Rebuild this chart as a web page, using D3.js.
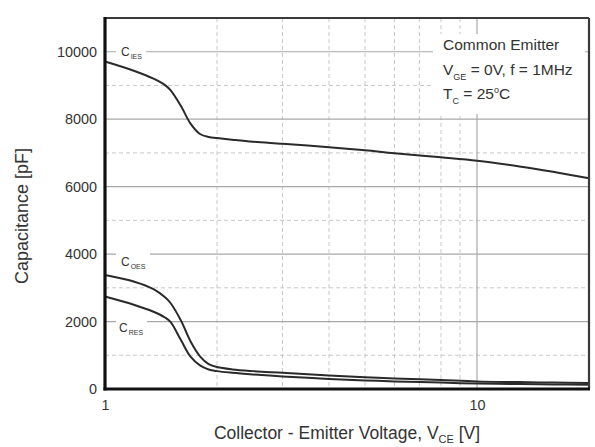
<!DOCTYPE html>
<html>
<head>
<meta charset="utf-8">
<script src="https://cdn.jsdelivr.net/npm/d3@7"></script>
<style>
  html, body { margin: 0; padding: 0; background: #fff; }
  svg { display: block; font-family: "Liberation Sans", Arial, sans-serif; }
</style>
</head>
<body>
<svg id="chart" width="595" height="447"></svg>
<script>
// Collector-emitter voltage samples (V)
const vce  = [1, 1.2, 1.35, 1.45, 1.5, 1.6, 1.7, 1.8, 1.9, 2.0, 2.2, 2.5, 3, 4, 5, 6, 8, 10, 13, 16, 20];
// Input capacitance Cies (pF)
const cies = [9710, 9430, 9200, 9010, 8860, 8390, 7860, 7560, 7470, 7440, 7390, 7330, 7270, 7170, 7080, 6990, 6870, 6770, 6600, 6440, 6250];
// Output capacitance Coes (pF)
const coes = [3380, 3180, 2960, 2720, 2550, 2030, 1400, 970, 740, 650, 580, 530, 480, 400, 350, 315, 265, 225, 205, 190, 175];
// Reverse transfer capacitance Cres (pF)
const cres = [2740, 2490, 2290, 2120, 1990, 1450, 950, 700, 580, 530, 480, 430, 370, 300, 255, 225, 190, 162, 148, 137, 125];

const yTicks     = [0, 2000, 4000, 6000, 8000, 10000];
const yMinorGrid = [1000, 3000, 5000, 7000, 9000];
const xTicks     = [1, 10];
const xMinorGrid = [2, 3, 4, 5, 6, 7, 8, 9];

const svg = d3.select("#chart");
const L = 105, R = 589, T = 18, B = 389;

const x = d3.scaleLog().domain([1, 20]).range([L, R]);
const y = d3.scaleLinear().domain([0, 11000]).range([B, T]);

const textColor = "#333";

// Grid: dashed minor lines
const grid = svg.append("g");
grid.selectAll("line.vminor").data(xMinorGrid).join("line")
  .attr("x1", d => x(d)).attr("x2", d => x(d))
  .attr("y1", T).attr("y2", B)
  .attr("stroke", "#c8c8c8").attr("stroke-width", 1)
  .attr("stroke-dasharray", "4,3");
grid.selectAll("line.hminor").data(yMinorGrid).join("line")
  .attr("x1", L).attr("x2", R)
  .attr("y1", d => y(d)).attr("y2", d => y(d))
  .attr("stroke", "#c8c8c8").attr("stroke-width", 1)
  .attr("stroke-dasharray", "4,3");
// Grid: solid major lines
grid.selectAll("line.hmajor").data(yTicks.filter(d => d > 0)).join("line")
  .attr("x1", L).attr("x2", R)
  .attr("y1", d => y(d)).attr("y2", d => y(d))
  .attr("stroke", "#a8a8a8").attr("stroke-width", 1.2);
grid.append("line")
  .attr("x1", x(10)).attr("x2", x(10))
  .attr("y1", T).attr("y2", B)
  .attr("stroke", "#a8a8a8").attr("stroke-width", 1.2);

// White backing behind the condition notes and curve names
svg.append("rect").attr("x", 433).attr("y", 34).attr("width", 152).attr("height", 80).attr("fill", "#fff");
const nameBoxes = [
  { v: 10000, x0: 116, x1: 146 },
  { v: 4000,  x0: 116, x1: 150 },
  { v: 2000,  x0: 116, x1: 147 }
];
svg.selectAll("rect.namebox").data(nameBoxes).join("rect")
  .attr("x", d => d.x0).attr("width", d => d.x1 - d.x0)
  .attr("y", d => y(d.v) - 4).attr("height", 8)
  .attr("fill", "#fff");

// Curves
const line = d3.line()
  .x((d, i) => x(vce[i]))
  .y(d => y(d))
  .curve(d3.curveCatmullRom.alpha(0.5));
[cies, coes, cres].forEach(s => {
  svg.append("path")
    .attr("d", line(s))
    .attr("fill", "none")
    .attr("stroke", "#2a2a2a")
    .attr("stroke-width", 2);
});

// Curve names with subscripts
const names = [
  { main: "C", sub: "IES", x: 121, y: 56 },
  { main: "C", sub: "OES", x: 121, y: 266 },
  { main: "C", sub: "RES", x: 119, y: 332 }
];
names.forEach(n => {
  const t = svg.append("text").attr("x", n.x).attr("y", n.y)
    .attr("fill", textColor).attr("font-size", 12);
  t.append("tspan").text(n.main);
  t.append("tspan").attr("font-size", 7).attr("dy", 3).attr("dx", 1).text(n.sub);
});

// Frame
svg.append("line").attr("x1", L).attr("x2", R).attr("y1", T).attr("y2", T)
  .attr("stroke", "#3a3a3a").attr("stroke-width", 2.2);
svg.append("line").attr("x1", R).attr("x2", R).attr("y1", T).attr("y2", B)
  .attr("stroke", "#3a3a3a").attr("stroke-width", 2.2);

// Axes
const yAxis = svg.append("g").attr("transform", `translate(${L},0)`)
  .call(d3.axisLeft(y).tickValues(yTicks).tickSize(0).tickPadding(8).tickFormat(d3.format("d")));
const xAxis = svg.append("g").attr("transform", `translate(0,${B})`)
  .call(d3.axisBottom(x).tickValues(xTicks).tickSize(0).tickPadding(11).tickFormat(d3.format("d")));
[yAxis, xAxis].forEach(a => {
  a.select(".domain").remove();
  a.selectAll("text")
    .attr("fill", textColor)
    .style("font-size", "14.4px")
    .style("font-family", "'Liberation Sans', Arial, sans-serif");
});
svg.append("line").attr("x1", L).attr("x2", L).attr("y1", T - 1).attr("y2", B + 1.5)
  .attr("stroke", "#111").attr("stroke-width", 3.2);
svg.append("line").attr("x1", L - 1.5).attr("x2", R + 1).attr("y1", B).attr("y2", B)
  .attr("stroke", "#111").attr("stroke-width", 3.2);

// Axis titles
svg.append("text")
  .attr("transform", "translate(28,216) rotate(-90)")
  .attr("text-anchor", "middle")
  .attr("fill", textColor).attr("font-size", 18)
  .text("Capacitance [pF]");

const xt = svg.append("text")
  .attr("x", 347).attr("y", 439)
  .attr("text-anchor", "middle")
  .attr("fill", textColor).attr("font-size", 17.5);
xt.append("tspan").text("Collector - Emitter Voltage, V");
xt.append("tspan").attr("font-size", 11).attr("dy", 4).text("CE");
xt.append("tspan").attr("dy", -4).text(" [V]");

// Test conditions
const notes = svg.append("g").attr("fill", textColor).attr("font-size", 15.5);
notes.append("text").attr("x", 443).attr("y", 50).text("Common Emitter");
const n2 = notes.append("text").attr("x", 443).attr("y", 75);
n2.append("tspan").text("V");
n2.append("tspan").attr("font-size", 9).attr("dy", 5).text("GE");
n2.append("tspan").attr("dy", -5).text(" = 0V, f = 1MHz");
const n3 = notes.append("text").attr("x", 443).attr("y", 99);
n3.append("tspan").text("T");
n3.append("tspan").attr("font-size", 9).attr("dy", 5).text("C");
n3.append("tspan").attr("dy", -5).text(" = 25");
n3.append("tspan").attr("font-size", 9).attr("dy", -6).text("o");
n3.append("tspan").attr("dy", 6).text("C");
</script>
</body>
</html>
